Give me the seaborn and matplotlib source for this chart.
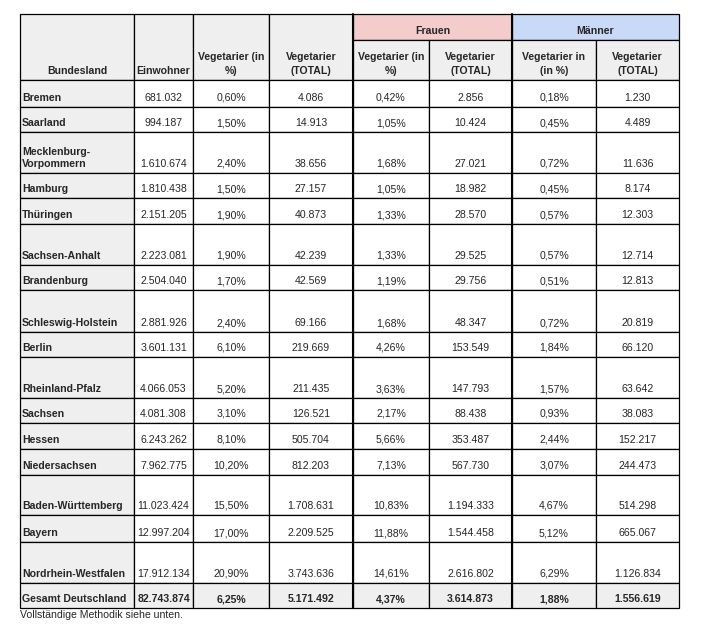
import numpy as np
import pandas as pd
import matplotlib.pyplot as plt
import seaborn as sns
from matplotlib.patches import Rectangle

# Daten je Bundesland
laender = ["Bremen", "Saarland", "Mecklenburg-\nVorpommern", "Hamburg", "Thüringen",
           "Sachsen-Anhalt", "Brandenburg", "Schleswig-Holstein", "Berlin",
           "Rheinland-Pfalz", "Sachsen", "Hessen", "Niedersachsen",
           "Baden-Württemberg", "Bayern", "Nordrhein-Westfalen"]
einwohner = [681032, 994187, 1610674, 1810438, 2151205, 2223081, 2504040, 2881926,
             3601131, 4066053, 4081308, 6243262, 7962775, 11023424, 12997204, 17912134]
veg_pct = [0.60, 1.50, 2.40, 1.50, 1.90, 1.90, 1.70, 2.40, 6.10, 5.20, 3.10, 8.10,
           10.20, 15.50, 17.00, 20.90]
veg_total = [4086, 14913, 38656, 27157, 40873, 42239, 42569, 69166, 219669, 211435,
             126521, 505704, 812203, 1708631, 2209525, 3743636]
frauen_pct = [0.42, 1.05, 1.68, 1.05, 1.33, 1.33, 1.19, 1.68, 4.26, 3.63, 2.17, 5.66,
              7.13, 10.83, 11.88, 14.61]
frauen_total = [2856, 10424, 27021, 18982, 28570, 29525, 29756, 48347, 153549, 147793,
                88438, 353487, 567730, 1194333, 1544458, 2616802]
maenner_pct = [0.18, 0.45, 0.72, 0.45, 0.57, 0.57, 0.51, 0.72, 1.84, 1.57, 0.93, 2.44,
               3.07, 4.67, 5.12, 6.29]
maenner_total = [1230, 4489, 11636, 8174, 12303, 12714, 12813, 20819, 66120, 63642,
                 38083, 152217, 244473, 514298, 665067, 1126834]
gesamt = ["Gesamt Deutschland", 82743874, 6.25, 5171492, 4.37, 3614873, 1.88, 1556619]

header = ["Bundesland", "Einwohner", "Vegetarier (in\n%)", "Vegetarier\n(TOTAL)",
          "Vegetarier (in\n%)", "Vegetarier\n(TOTAL)", "Vegetarier in\n(in %)",
          "Vegetarier\n(TOTAL)"]
gruppen = ["Frauen", "Männer"]

df = pd.DataFrame({"land": laender, "einw": einwohner, "vp": veg_pct, "vt": veg_total,
                   "fp": frauen_pct, "ft": frauen_total, "mp": maenner_pct, "mt": maenner_total})
df.loc[len(df)] = gesamt


def fmt_int(v):
    return f"{int(v):,}".replace(",", ".")


def fmt_pct(v):
    return f"{v:.2f}%".replace(".", ",")


fmts = [str, fmt_int, fmt_pct, fmt_int, fmt_pct, fmt_int, fmt_pct, fmt_int]

# Layout (Pixel)
col_w = [114, 59, 76, 84, 76, 83, 84, 83]
row_h = [27, 25, 41, 25, 26, 41, 25, 42, 25, 41, 25, 26, 26, 40, 27, 41, 25]
x0, y0, band_h, head_h = 20, 14, 26, 40
xe = x0 + np.concatenate([[0], np.cumsum(col_w)])
y_body = y0 + band_h + head_h
ye = y_body + np.concatenate([[0], np.cumsum(row_h)])

grey, pink, blue = "#efefef", "#f4cccc", "#c9daf8"
lw = 0.9
base = 6  # Abstand Grundlinie -> Zellunterkante

sns.set_theme(style="white")
plt.rcParams["font.family"] = ["Liberation Sans", "DejaVu Sans"]
fs = 7.6

fig = plt.figure(figsize=(7.18, 6.24), dpi=100)
ax = fig.add_axes([0, 0, 1, 1])
ax.set_xlim(0, 718)
ax.set_ylim(624, 0)
ax.axis("off")


def cell(x1, x2, y1, y2, color):
    ax.add_patch(Rectangle((x1, y1), x2 - x1, y2 - y1, facecolor=color,
                           edgecolor="black", lw=lw))


# Kopfzeilen
for j in range(4):
    cell(xe[j], xe[j + 1], y0, y_body, grey)
for g, (name, c) in enumerate(zip(gruppen, [pink, blue])):
    a, b = xe[4 + 2 * g], xe[6 + 2 * g]
    cell(a, b, y0, y0 + band_h, c)
    ax.text((a + b) / 2, y0 + band_h - base, name, ha="center", va="baseline",
            fontsize=fs, fontweight="bold")
for j in range(4, 8):
    cell(xe[j], xe[j + 1], y0 + band_h, y_body, grey)
for j, lab in enumerate(header):
    ax.text((xe[j] + xe[j + 1]) / 2, y_body - base, lab, ha="center", va="baseline",
            fontsize=fs, fontweight="bold", linespacing=1.45)

# Tabellenkörper
n = len(df)
for i in range(n):
    last = i == n - 1
    for j, col in enumerate(df.columns):
        color = grey if (j == 0 or last) else "white"
        cell(xe[j], xe[j + 1], ye[i], ye[i + 1], color)
        txt = fmts[j](df.iloc[i][col])
        if j == 0:
            ax.text(xe[j] + 2, ye[i + 1] - base, txt, ha="left", va="baseline",
                    fontsize=fs, fontweight="bold", linespacing=1.25)
        else:
            ax.text((xe[j] + xe[j + 1]) / 2, ye[i + 1] - base, txt, ha="center",
                    va="baseline", fontsize=fs, fontweight="bold" if last else "normal")

# kräftigere Trennlinien vor Frauen / Männer
for xv in (xe[4], xe[6]):
    ax.plot([xv, xv], [y0, ye[-1]], color="black", lw=1.5)

ax.text(x0, ye[-1] + 10, "Vollständige Methodik siehe unten.", ha="left", va="baseline",
        fontsize=fs)

fig.savefig("out.png", dpi=100)
